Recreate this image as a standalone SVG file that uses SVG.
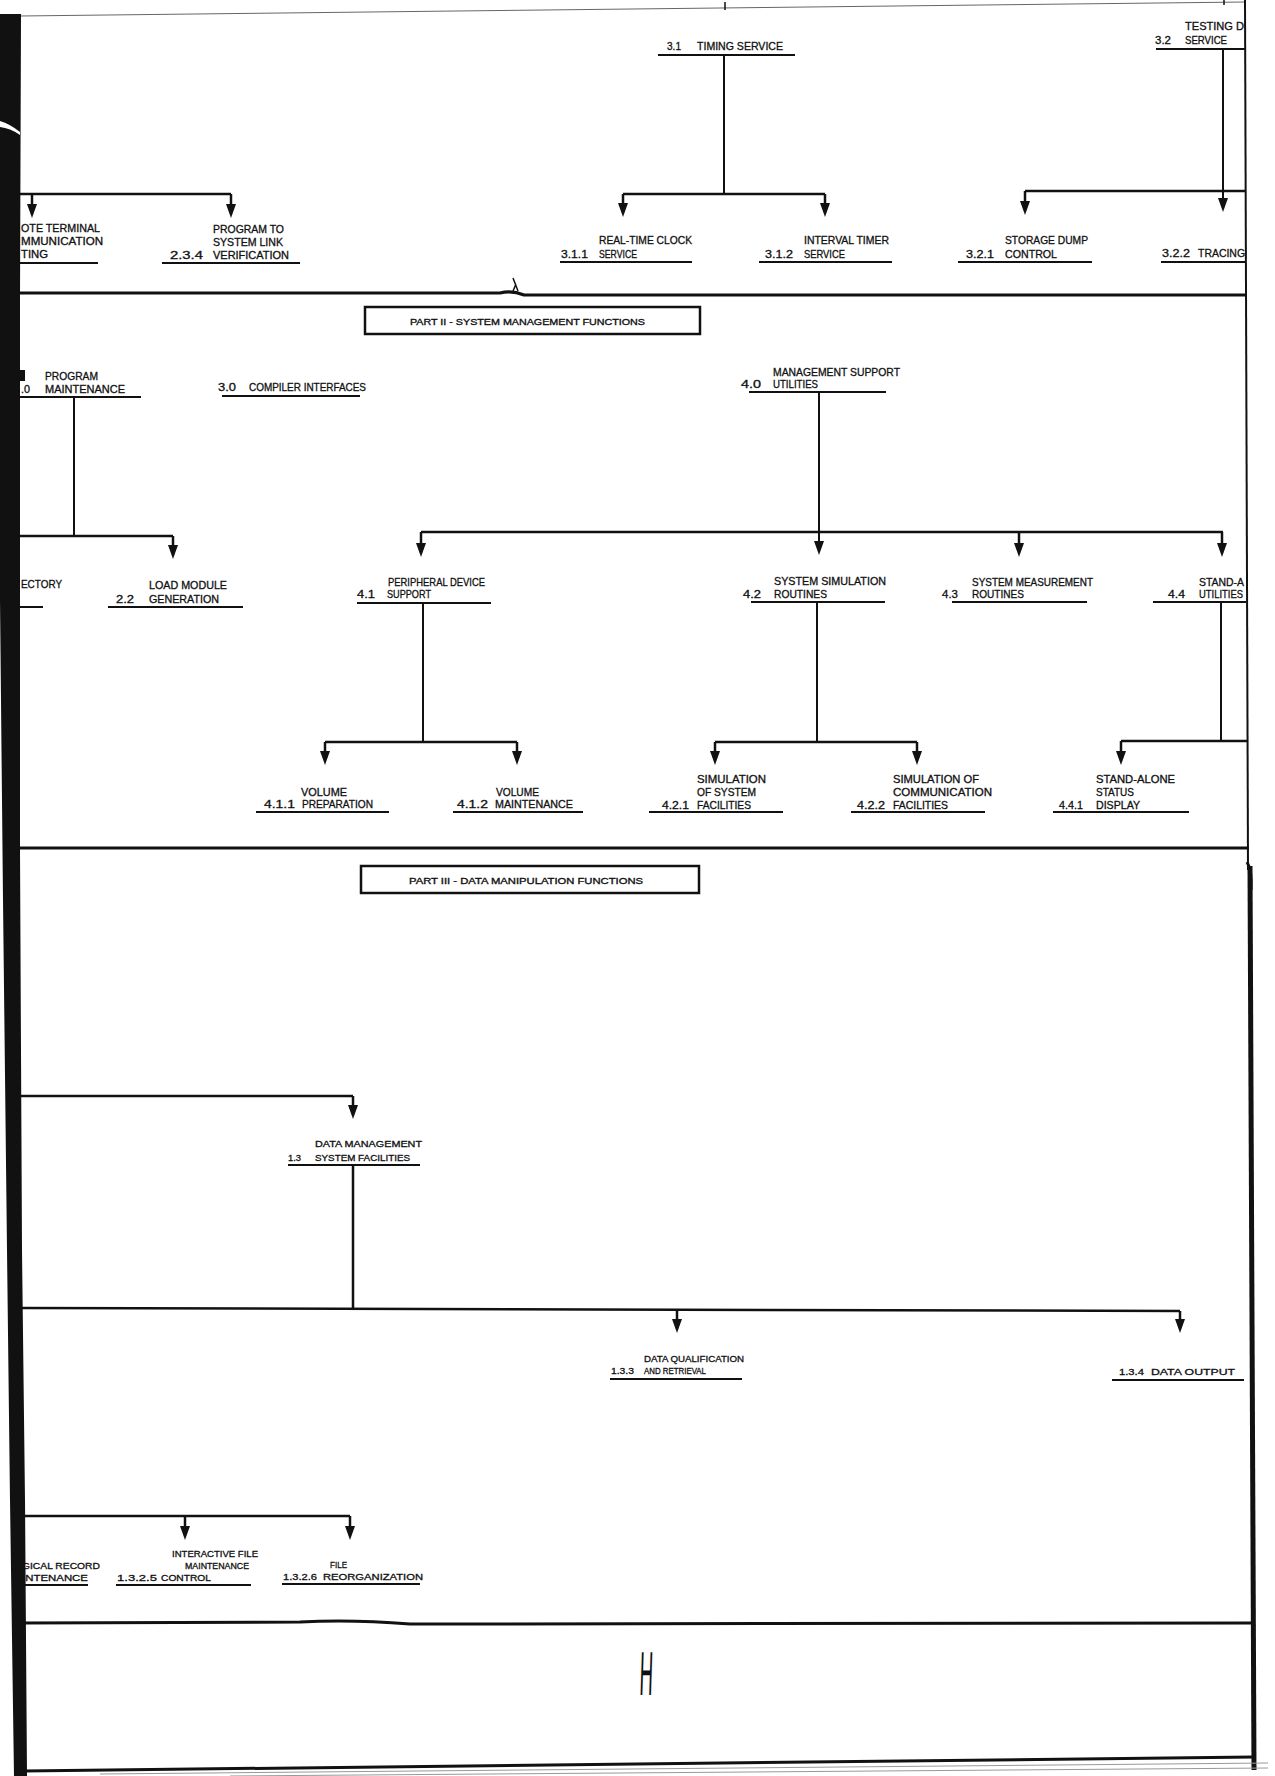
<svg xmlns="http://www.w3.org/2000/svg" width="1275" height="1776" viewBox="0 0 1275 1776">
<style>
.t{font-family:"Liberation Sans",Arial,sans-serif;font-size:10.5px;fill:#111;stroke:#111;stroke-width:0.3}
.s{font-size:9px}
.b{font-size:9.5px;stroke-width:0.35}
.u{stroke:#111;stroke-width:2;fill:none}
.c{stroke:#111;stroke-width:2.5;fill:none}
.cv{stroke:#111;stroke-width:2;fill:none}
.fr{stroke:#111;fill:none}
</style>
<defs>
<marker id="ah" viewBox="0 0 14 10" refX="8" refY="5" markerWidth="14" markerHeight="10" markerUnits="userSpaceOnUse" orient="auto"><path d="M0,0 L14,5 L0,10 Z" fill="#111"/></marker>
</defs>
<rect width="1275" height="1776" fill="#fff"/>
<g id="frame">
<path d="M20,16 L1245,2" stroke="#666" stroke-width="1" fill="none"/>
<path d="M725,2 V10 M1224,0 V5" stroke="#111" stroke-width="1.5"/>
<polygon points="0,14 21,14 20,300 20,850 22,1250 25,1500 27,1776 14,1776 10,1500 7,1250 3,900 0,600" fill="#111"/>
<path d="M0,121 Q10,124 20,132 L20,135 Q10,128 0,127 Z" fill="#fff"/>
<path class="fr" stroke-width="2" d="M1245,0 L1248,870"/>
<path class="fr" stroke-width="5" d="M1250,866 L1254,1770"/>
<path d="M1247,862 Q1252,870 1251,890" stroke="#111" stroke-width="3" fill="none"/>
<path class="fr" stroke-width="3" d="M20,293 L500,293 Q512,290 524,295 L1247,295"/>
<path d="M513,278 L518,291 M516,284 L513,291" stroke="#111" stroke-width="1.5" fill="none"/>
<path class="fr" stroke-width="3" d="M20,848 L1249,848"/>
<path class="fr" stroke-width="3" d="M22,1623 L300,1622 Q350,1619 410,1624 L1252,1623"/>
<path class="fr" stroke-width="3" d="M24,1771 L1254,1757"/>
<path d="M100,1774 L1268,1763 M230,1776 L1268,1768" stroke="#999" stroke-width="1" fill="none"/>
</g>
<g id="connectors">
<path class="cv" d="M724,54 V194"/>
<path class="c" d="M623,194 H825"/>
<path class="c" d="M623,194 V211" marker-end="url(#ah)"/>
<path class="c" d="M825,194 V211" marker-end="url(#ah)"/>
<path class="c" d="M20,194 H231"/>
<path class="c" d="M32,194 V212" marker-end="url(#ah)"/>
<path class="c" d="M231,194 V212" marker-end="url(#ah)"/>
<path class="cv" d="M1223,48 V206" marker-end="url(#ah)"/>
<path class="c" d="M1025,191 H1245"/>
<path class="c" d="M1025,191 V209" marker-end="url(#ah)"/>
<path class="cv" d="M74,397 V536"/>
<path class="c" d="M20,536 H173"/>
<path class="c" d="M173,536 V553" marker-end="url(#ah)"/>
<path class="cv" d="M819,392 V549" marker-end="url(#ah)"/>
<path class="c" d="M421,532 H1223"/>
<path class="c" d="M421,532 V551" marker-end="url(#ah)"/>
<path class="c" d="M1019,532 V551" marker-end="url(#ah)"/>
<path class="c" d="M1222,532 V551" marker-end="url(#ah)"/>
<path class="cv" d="M423,603 V742"/>
<path class="c" d="M325,742 H517"/>
<path class="c" d="M325,742 V759" marker-end="url(#ah)"/>
<path class="c" d="M517,742 V759" marker-end="url(#ah)"/>
<path class="cv" d="M817,602 V742"/>
<path class="c" d="M715,742 H917"/>
<path class="c" d="M715,742 V759" marker-end="url(#ah)"/>
<path class="c" d="M917,742 V759" marker-end="url(#ah)"/>
<path class="cv" d="M1221,602 V741"/>
<path class="c" d="M1121,741 H1247"/>
<path class="c" d="M1121,741 V759" marker-end="url(#ah)"/>
<path class="c" d="M20,1096 H353"/>
<path class="c" d="M353,1096 V1113" marker-end="url(#ah)"/>
<path class="c" d="M353,1164 V1309"/>
<path class="c" d="M20,1308 L1180,1311"/>
<path class="c" d="M677,1310 V1327" marker-end="url(#ah)"/>
<path class="c" d="M1180,1311 V1327" marker-end="url(#ah)"/>
<path class="c" d="M20,1516 H350"/>
<path class="c" d="M185,1516 V1534" marker-end="url(#ah)"/>
<path class="c" d="M350,1516 V1534" marker-end="url(#ah)"/>
</g>
<g id="n3-1">
<text class="t" x="667" y="50" textLength="14" lengthAdjust="spacingAndGlyphs">3.1</text>
<text class="t" x="697" y="50" textLength="86" lengthAdjust="spacingAndGlyphs">TIMING SERVICE</text>
<path class="u" d="M658,55 H795"/>
</g>
<g id="n2-3-3">
<text class="t" x="21" y="232" textLength="79" lengthAdjust="spacingAndGlyphs">OTE TERMINAL</text>
<text class="t" x="21" y="245" textLength="82" lengthAdjust="spacingAndGlyphs">MMUNICATION</text>
<text class="t" x="21" y="258" textLength="27" lengthAdjust="spacingAndGlyphs">TING</text>
<path class="u" d="M20,263 H98"/>
</g>
<g id="n2-3-4">
<text class="t" x="213" y="233" textLength="71" lengthAdjust="spacingAndGlyphs">PROGRAM TO</text>
<text class="t" x="213" y="246" textLength="70" lengthAdjust="spacingAndGlyphs">SYSTEM LINK</text>
<text class="t" x="170" y="259" textLength="33" lengthAdjust="spacingAndGlyphs">2.3.4</text>
<text class="t" x="213" y="259" textLength="76" lengthAdjust="spacingAndGlyphs">VERIFICATION</text>
<path class="u" d="M162,263 H300"/>
</g>
<g id="n3-1-1">
<text class="t" x="599" y="244" textLength="93" lengthAdjust="spacingAndGlyphs">REAL-TIME CLOCK</text>
<text class="t" x="561" y="258" textLength="27" lengthAdjust="spacingAndGlyphs">3.1.1</text>
<text class="t" x="599" y="258" textLength="38" lengthAdjust="spacingAndGlyphs">SERVICE</text>
<path class="u" d="M560,262 H692"/>
</g>
<g id="n3-1-2">
<text class="t" x="804" y="244" textLength="85" lengthAdjust="spacingAndGlyphs">INTERVAL TIMER</text>
<text class="t" x="765" y="258" textLength="28" lengthAdjust="spacingAndGlyphs">3.1.2</text>
<text class="t" x="804" y="258" textLength="41" lengthAdjust="spacingAndGlyphs">SERVICE</text>
<path class="u" d="M759,262 H892"/>
</g>
<g id="n3-2">
<text class="t" x="1185" y="30" textLength="59" lengthAdjust="spacingAndGlyphs">TESTING D</text>
<text class="t" x="1155" y="44" textLength="16" lengthAdjust="spacingAndGlyphs">3.2</text>
<text class="t" x="1185" y="44" textLength="42" lengthAdjust="spacingAndGlyphs">SERVICE</text>
<path class="u" d="M1156,49 H1245"/>
</g>
<g id="n3-2-1">
<text class="t" x="1005" y="244" textLength="83" lengthAdjust="spacingAndGlyphs">STORAGE DUMP</text>
<text class="t" x="966" y="258" textLength="28" lengthAdjust="spacingAndGlyphs">3.2.1</text>
<text class="t" x="1005" y="258" textLength="52" lengthAdjust="spacingAndGlyphs">CONTROL</text>
<path class="u" d="M958,262 H1092"/>
</g>
<g id="n3-2-2">
<text class="t" x="1162" y="257" textLength="28" lengthAdjust="spacingAndGlyphs">3.2.2</text>
<text class="t" x="1198" y="257" textLength="47" lengthAdjust="spacingAndGlyphs">TRACING</text>
<path class="u" d="M1161,262 H1245"/>
</g>
<g id="part2">
<rect x="365" y="307" width="335" height="27" fill="none" stroke="#111" stroke-width="2.5"/>
<text class="t b" x="410" y="325" textLength="235" lengthAdjust="spacingAndGlyphs">PART II - SYSTEM MANAGEMENT FUNCTIONS</text>
</g>
<g id="n2-0">
<rect x="20" y="370" width="5" height="11" fill="#111"/>
<text class="t" x="45" y="380" textLength="53" lengthAdjust="spacingAndGlyphs">PROGRAM</text>
<text class="t" x="21" y="393" textLength="9" lengthAdjust="spacingAndGlyphs">.0</text>
<text class="t" x="45" y="393" textLength="80" lengthAdjust="spacingAndGlyphs">MAINTENANCE</text>
<path class="u" d="M20,397 H141"/>
</g>
<g id="n3-0">
<text class="t" x="218" y="391" textLength="18" lengthAdjust="spacingAndGlyphs">3.0</text>
<text class="t" x="249" y="391" textLength="117" lengthAdjust="spacingAndGlyphs">COMPILER INTERFACES</text>
<path class="u" d="M222,396 H360"/>
</g>
<g id="n2-1">
<text class="t" x="21" y="588" textLength="41" lengthAdjust="spacingAndGlyphs">ECTORY</text>
<path class="u" d="M20,607 H43"/>
</g>
<g id="n2-2">
<text class="t" x="149" y="589" textLength="78" lengthAdjust="spacingAndGlyphs">LOAD MODULE</text>
<text class="t" x="116" y="603" textLength="18" lengthAdjust="spacingAndGlyphs">2.2</text>
<text class="t" x="149" y="603" textLength="70" lengthAdjust="spacingAndGlyphs">GENERATION</text>
<path class="u" d="M108,607 H243"/>
</g>
<g id="n4-0">
<text class="t" x="773" y="376" textLength="127" lengthAdjust="spacingAndGlyphs">MANAGEMENT SUPPORT</text>
<text class="t" x="741" y="388" textLength="20" lengthAdjust="spacingAndGlyphs">4.0</text>
<text class="t" x="773" y="388" textLength="45" lengthAdjust="spacingAndGlyphs">UTILITIES</text>
<path class="u" d="M749,392 H886"/>
</g>
<g id="n4-1">
<text class="t" x="388" y="586" textLength="97" lengthAdjust="spacingAndGlyphs">PERIPHERAL DEVICE</text>
<text class="t" x="357" y="598" textLength="18" lengthAdjust="spacingAndGlyphs">4.1</text>
<text class="t" x="387" y="598" textLength="44" lengthAdjust="spacingAndGlyphs">SUPPORT</text>
<path class="u" d="M357,603 H491"/>
</g>
<g id="n4-2">
<text class="t" x="774" y="585" textLength="112" lengthAdjust="spacingAndGlyphs">SYSTEM SIMULATION</text>
<text class="t" x="743" y="598" textLength="18" lengthAdjust="spacingAndGlyphs">4.2</text>
<text class="t" x="774" y="598" textLength="53" lengthAdjust="spacingAndGlyphs">ROUTINES</text>
<path class="u" d="M751,602 H885"/>
</g>
<g id="n4-3">
<text class="t" x="972" y="586" textLength="121" lengthAdjust="spacingAndGlyphs">SYSTEM MEASUREMENT</text>
<text class="t" x="942" y="598" textLength="16" lengthAdjust="spacingAndGlyphs">4.3</text>
<text class="t" x="972" y="598" textLength="52" lengthAdjust="spacingAndGlyphs">ROUTINES</text>
<path class="u" d="M952,602 H1087"/>
</g>
<g id="n4-4">
<text class="t" x="1199" y="586" textLength="45" lengthAdjust="spacingAndGlyphs">STAND-A</text>
<text class="t" x="1168" y="598" textLength="17" lengthAdjust="spacingAndGlyphs">4.4</text>
<text class="t" x="1199" y="598" textLength="44" lengthAdjust="spacingAndGlyphs">UTILITIES</text>
<path class="u" d="M1153,602 H1246"/>
</g>
<g id="n4-1-1">
<text class="t" x="301" y="796" textLength="46" lengthAdjust="spacingAndGlyphs">VOLUME</text>
<text class="t" x="264" y="808" textLength="31" lengthAdjust="spacingAndGlyphs">4.1.1</text>
<text class="t" x="302" y="808" textLength="71" lengthAdjust="spacingAndGlyphs">PREPARATION</text>
<path class="u" d="M256,812 H389"/>
</g>
<g id="n4-1-2">
<text class="t" x="496" y="796" textLength="43" lengthAdjust="spacingAndGlyphs">VOLUME</text>
<text class="t" x="457" y="808" textLength="31" lengthAdjust="spacingAndGlyphs">4.1.2</text>
<text class="t" x="495" y="808" textLength="78" lengthAdjust="spacingAndGlyphs">MAINTENANCE</text>
<path class="u" d="M453,812 H583"/>
</g>
<g id="n4-2-1">
<text class="t" x="697" y="783" textLength="69" lengthAdjust="spacingAndGlyphs">SIMULATION</text>
<text class="t" x="697" y="796" textLength="59" lengthAdjust="spacingAndGlyphs">OF SYSTEM</text>
<text class="t" x="662" y="809" textLength="27" lengthAdjust="spacingAndGlyphs">4.2.1</text>
<text class="t" x="697" y="809" textLength="54" lengthAdjust="spacingAndGlyphs">FACILITIES</text>
<path class="u" d="M649,812 H783"/>
</g>
<g id="n4-2-2">
<text class="t" x="893" y="783" textLength="86" lengthAdjust="spacingAndGlyphs">SIMULATION OF</text>
<text class="t" x="893" y="796" textLength="99" lengthAdjust="spacingAndGlyphs">COMMUNICATION</text>
<text class="t" x="857" y="809" textLength="28" lengthAdjust="spacingAndGlyphs">4.2.2</text>
<text class="t" x="893" y="809" textLength="55" lengthAdjust="spacingAndGlyphs">FACILITIES</text>
<path class="u" d="M851,812 H985"/>
</g>
<g id="n4-4-1">
<text class="t" x="1096" y="783" textLength="79" lengthAdjust="spacingAndGlyphs">STAND-ALONE</text>
<text class="t" x="1096" y="796" textLength="38" lengthAdjust="spacingAndGlyphs">STATUS</text>
<text class="t" x="1059" y="809" textLength="24" lengthAdjust="spacingAndGlyphs">4.4.1</text>
<text class="t" x="1096" y="809" textLength="44" lengthAdjust="spacingAndGlyphs">DISPLAY</text>
<path class="u" d="M1053,812 H1189"/>
</g>
<g id="part3">
<rect x="361" y="866" width="338" height="27" fill="none" stroke="#111" stroke-width="2.5"/>
<text class="t b" x="409" y="884" textLength="234" lengthAdjust="spacingAndGlyphs">PART III - DATA MANIPULATION FUNCTIONS</text>
</g>
<g id="n1-3">
<text class="t s" x="315" y="1147" textLength="107" lengthAdjust="spacingAndGlyphs">DATA MANAGEMENT</text>
<text class="t s" x="288" y="1161" textLength="13" lengthAdjust="spacingAndGlyphs">1.3</text>
<text class="t s" x="315" y="1161" textLength="95" lengthAdjust="spacingAndGlyphs">SYSTEM FACILITIES</text>
<path class="u" d="M288,1165 H420"/>
</g>
<g id="n1-3-3">
<text class="t s" x="644" y="1362" textLength="100" lengthAdjust="spacingAndGlyphs">DATA QUALIFICATION</text>
<text class="t s" x="611" y="1374" textLength="23" lengthAdjust="spacingAndGlyphs">1.3.3</text>
<text class="t s" x="644" y="1374" textLength="62" lengthAdjust="spacingAndGlyphs">AND RETRIEVAL</text>
<path class="u" d="M610,1379 H742"/>
</g>
<g id="n1-3-4">
<text class="t s" x="1119" y="1375" textLength="25" lengthAdjust="spacingAndGlyphs">1.3.4</text>
<text class="t s" x="1151" y="1375" textLength="84" lengthAdjust="spacingAndGlyphs">DATA OUTPUT</text>
<path class="u" d="M1112,1380 H1244"/>
</g>
<g id="n1-3-2-4">
<text class="t s" x="22" y="1569" textLength="78" lengthAdjust="spacingAndGlyphs">GICAL RECORD</text>
<text class="t s" x="22" y="1581" textLength="66" lengthAdjust="spacingAndGlyphs">INTENANCE</text>
<path class="u" d="M22,1585 H88"/>
</g>
<g id="n1-3-2-5">
<text class="t s" x="172" y="1557" textLength="86" lengthAdjust="spacingAndGlyphs">INTERACTIVE FILE</text>
<text class="t s" x="185" y="1569" textLength="64" lengthAdjust="spacingAndGlyphs">MAINTENANCE</text>
<text class="t s" x="117" y="1581" textLength="40" lengthAdjust="spacingAndGlyphs">1.3.2.5</text>
<text class="t s" x="161" y="1581" textLength="50" lengthAdjust="spacingAndGlyphs">CONTROL</text>
<path class="u" d="M116,1585 H251"/>
</g>
<g id="n1-3-2-6">
<text class="t s" x="330" y="1568" textLength="17" lengthAdjust="spacingAndGlyphs">FILE</text>
<text class="t s" x="283" y="1580" textLength="34" lengthAdjust="spacingAndGlyphs">1.3.2.6</text>
<text class="t s" x="323" y="1580" textLength="100" lengthAdjust="spacingAndGlyphs">REORGANIZATION</text>
<path class="u" d="M282,1584 H420"/>
</g>
<g id="mark">
<text x="0" y="0" style="font-family:'Liberation Sans',Arial,sans-serif;font-size:62px;fill:#111" transform="translate(639,1695) scale(0.3,1) skewX(-6)">H</text>
</g>
</svg>
